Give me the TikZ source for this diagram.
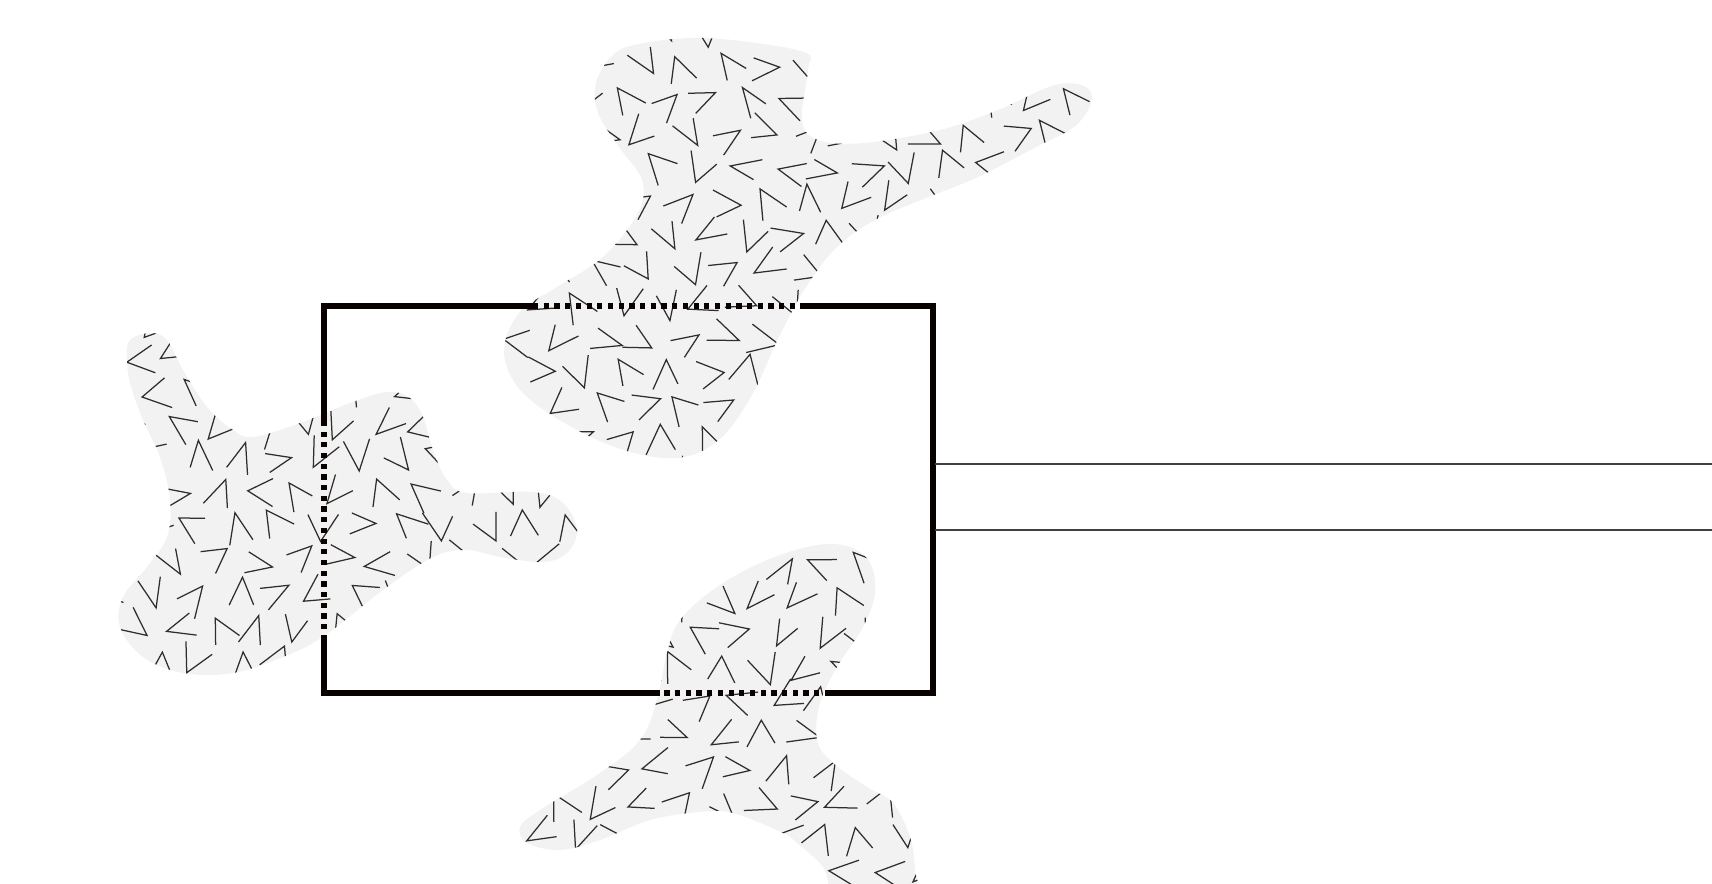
\documentclass[tikz,border=0pt]{standalone}
\begin{document}
\begin{tikzpicture}[x=1pt,y=-1pt,
  blobfill/.style={fill=black!5},
  vmark/.style={draw=black!82, line width=1.25pt},
  rectline/.style={draw=black!88!red!30!black, line width=5.2pt, line cap=rect, line join=miter},
  dotline/.style={draw=black!88!red!30!black, line width=5.2pt, dash pattern=on 5.2pt off 5.5pt},
  thinline/.style={draw=black!75, line width=1.6pt}]
\useasboundingbox (0,0) rectangle (1712,883);

\def\blobA{plot[smooth cycle, tension=0.6] coordinates{
(634,45) (691,38) (749,42) (806,53) (808,70) (802,120) (818,140) (864,143)
(940,130) (998,110) (1055,85) (1086,87) (1091,103) (1074,127) (1036,147)
(978,177) (921,200) (875,220) (837,247) (806,287) (779,337) (753,393)
(722,437) (684,457) (634,453) (577,430) (523,393) (504,353) (519,313)
(557,287) (603,257) (638,213) (642,180) (619,147) (598,113) (596,83) (611,57)}}
\def\blobB{plot[smooth cycle, tension=0.6] coordinates{
(130,340) (150,333) (167,340) (183,370) (207,407) (233,430) (253,437)
(300,423) (350,403) (387,392) (410,398) (423,417) (433,450) (447,480)
(467,493) (533,492) (563,503) (577,530) (567,553) (543,562) (500,557)
(467,550) (433,557) (383,590) (324,636) (283,657) (233,673) (183,673)
(143,657) (120,627) (123,597) (147,567) (167,537) (170,500) (160,457)
(143,420) (130,383) (127,357)}}
\def\blobC{plot[smooth cycle, tension=0.6] coordinates{
(520,827) (540,810) (600,773) (640,740) (657,700) (667,653) (680,620)
(717,587) (767,560) (817,545) (850,547) (870,563) (875,593) (863,627)
(837,667) (820,703) (817,740) (833,763) (867,787) (893,803) (910,837)
(915,870) (914,900) (840,900) (823,867) (797,843) (783,833) (733,813)
(700,812) (650,820) (600,840) (560,850) (527,843)}}

% staggered grid of V marks: #1 x start, #2 x next, #3 x end, #4 y start, #5 y next, #6 y end
\newcommand\vmarks[6]{%
  \foreach \gy [count=\rr] in {#4,#5,...,#6}{%
    \foreach \gx in {#1,#2,...,#3}{%
      \pgfmathsetmacro\cx{\gx+20*mod(\rr,2)+6*rand}%
      \pgfmathsetmacro\cy{\gy+5*rand}%
      \pgfmathsetmacro\ang{360*rnd}%
      \pgfmathsetmacro\hw{20+10*rnd}%
      \pgfmathsetmacro\la{26+8*rnd}%
      \pgfmathsetmacro\lb{26+8*rnd}%
      \pgfmathsetmacro\vx{\cx-14*cos(\ang)}%
      \pgfmathsetmacro\vy{\cy-14*sin(\ang)}%
      \draw[vmark] ([shift={(\vx,\vy)}]\ang+\hw:\la) -- (\vx,\vy) -- ([shift={(\vx,\vy)}]\ang-\hw:\lb);
    }%
  }%
}

\pgfmathsetseed{2024}
\fill[blobfill] \blobA;
\fill[blobfill] \blobB;
\fill[blobfill] \blobC;
\begin{scope}
  \clip \blobA;
  \vmarks{480}{521}{1110}{32}{66}{475}
\end{scope}
\begin{scope}
  \clip \blobB;
  \vmarks{95}{136}{600}{322}{356}{695}
\end{scope}
\begin{scope}
  \clip \blobC;
  \vmarks{495}{536}{930}{532}{566}{905}
\end{scope}

% rectangle corners and break points
\coordinate (TL) at (324,306);
\coordinate (TR) at (933,306);
\coordinate (BR) at (933,693);
\coordinate (BL) at (324,693);
\coordinate (T1) at (533,306);
\coordinate (T2) at (803,306);
\coordinate (B1) at (830,693);
\coordinate (B2) at (657,693);
\coordinate (L1) at (324,640);
\coordinate (L2) at (324,418);
\draw[rectline] (T1) -- (TL) -- (L2);
\draw[rectline] (T2) -- (TR) -- (BR) -- (B1);
\draw[rectline] (B2) -- (BL) -- (L1);
\draw[dotline] (T1) -- (T2);
\draw[dotline] (B1) -- (B2);
\draw[dotline] (L1) -- (L2);

% channel lines
\coordinate (P1) at (935,464);
\coordinate (Q1) at (1712,464);
\coordinate (P2) at (935,530);
\coordinate (Q2) at (1712,530);
\draw[thinline] (P1) -- (Q1);
\draw[thinline] (P2) -- (Q2);
\end{tikzpicture}
\end{document}
